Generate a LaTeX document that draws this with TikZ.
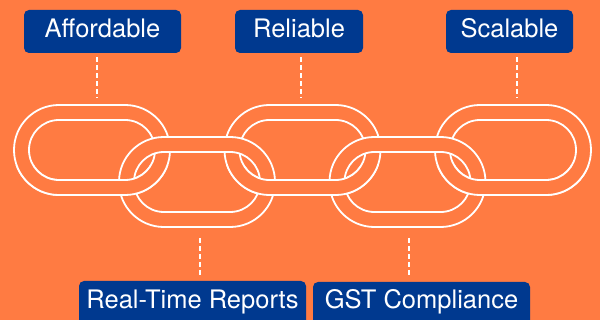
\documentclass[tikz,border=0pt]{standalone}
\usepackage{fontspec}
\setmainfont{TeX Gyre Heros}
\definecolor{bgorange}{RGB}{255,123,66}
\definecolor{boxblue}{RGB}{0,57,143}
\newcommand{\chainlink}[2]{%
  \begin{scope}[shift={(#1,#2)}]
    \fill[bgorange, even odd rule, rounded corners=44.9pt] (-78,-45) rectangle (78,45)
      [rounded corners=29.9pt] (-63,-30) rectangle (63,30);
    \draw[ringline, rounded corners=44.9pt] (-78,-45) rectangle (78,45);
    \draw[ringline, rounded corners=29.9pt] (-63,-30) rectangle (63,30);
  \end{scope}}
\begin{document}
\begin{tikzpicture}[x=1pt,y=-1pt,
  ringline/.style={draw=white, line width=1.8pt},
  dashline/.style={draw=white, line width=1.8pt, dash pattern=on 5pt off 3pt},
  tag/.style={fill=boxblue, rounded corners=5pt, text=white, inner sep=0pt,
    font=\fontsize{25.5}{30}\selectfont, anchor=base, align=center}]
\useasboundingbox (0,0) rectangle (600,320);
\clip (0,0) rectangle (600,320);
\fill[bgorange] (0,0) rectangle (600,320);

% chain: upper links, then lower links, then upper links again below the split
\chainlink{92}{150}
\chainlink{302.5}{150}
\chainlink{513}{150}
\chainlink{197}{182}
\chainlink{407.5}{182}
\begin{scope}
  \clip (0,166) rectangle (600,320);
  \chainlink{92}{150}
  \chainlink{302.5}{150}
  \chainlink{513}{150}
\end{scope}

% labels
\node[tag, minimum width=157pt, text height=27.7pt, text depth=15.3pt] (aff) at (102.5,37.7) {Affordable};
\node[tag, minimum width=128pt, text height=27.7pt, text depth=15.3pt] (rel) at (299,37.7) {Reliable};
\node[tag, minimum width=127pt, text height=27.7pt, text depth=15.3pt] (sca) at (509.5,37.7) {Scalable};
\node[tag, minimum width=227pt, text height=28pt, text depth=25pt] (rtr) at (192.5,309) {Real-Time Reports};
\node[tag, minimum width=217pt, text height=27pt, text depth=25pt] (gst) at (421.5,309) {GST Compliance};

% connector ends on the chain
\coordinate (c1) at (97,98);
\coordinate (c2) at (301,98);
\coordinate (c3) at (517,98);
\coordinate (c4) at (200,238);
\coordinate (c5) at (409,238);

\draw[dashline] ([yshift=-4pt]aff.south -| c1) -- (c1);
\draw[dashline] ([yshift=-4pt]rel.south -| c2) -- (c2);
\draw[dashline] ([yshift=-4pt]sca.south -| c3) -- (c3);
\draw[dashline] (c4) -- ([yshift=4pt]rtr.north -| c4);
\draw[dashline] (c5) -- ([yshift=4pt]gst.north -| c5);
\end{tikzpicture}
\end{document}
